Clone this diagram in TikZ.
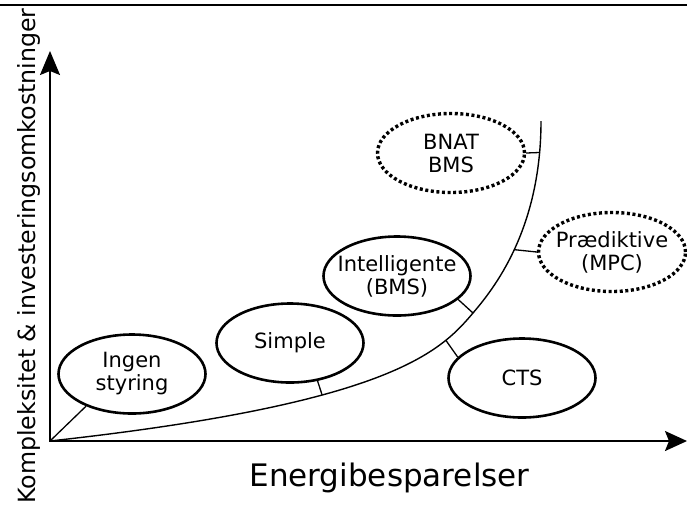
\documentclass[tikz,border=0pt]{standalone}
\usepackage{fontspec}
\setmainfont{DejaVu Sans}
\usetikzlibrary{shapes.geometric,arrows.meta}
\begin{document}
\begin{tikzpicture}[x=1pt,y=-1pt,
  box/.style={ellipse, draw, line width=2.6pt, inner sep=0pt, minimum width=147pt, minimum height=79pt},
  dotbox/.style={box, line width=3.4pt, dash pattern=on 3pt off 2.6pt},
  lbl/.style={font=\fontsize{21}{23}\selectfont, align=center, inner sep=0pt},
  axisline/.style={line width=1.8pt, {Stealth[length=24pt,width=20pt,inset=4pt]}-{Stealth[length=22pt,width=20pt,inset=4pt]}},
  tickline/.style={line width=1.3pt},
  curveline/.style={line width=1.4pt},
]
\useasboundingbox (0,0) rectangle (687,507);
\fill[white] (0,0) rectangle (687,507);
% top rule
\coordinate (tl) at (0,5);
\coordinate (tr) at (687,5);
\draw[line width=1.8pt] (tl) -- (tr);
% axes
\coordinate (O) at (50,441);
\coordinate (ytip) at (50,51);
\coordinate (xtip) at (687,441);
\draw[axisline] (ytip) -- (O) -- (xtip);
% axis labels
\node[font=\fontsize{23.7}{28}\selectfont, rotate=90, anchor=base, inner sep=0pt] (ylab) at (35,256) {Kompleksitet \& investeringsomkostninger};
\node[font=\fontsize{31}{37}\selectfont, anchor=base, inner sep=0pt] (xlab) at (389.5,486) {Energibesparelser};
% curve
\coordinate (cI) at (473,313);
\coordinate (ctop) at (541,121);
\draw[curveline] (O) .. controls (390,403.6) and (440,352) .. (cI)
  coordinate[pos=0.37] (cS) coordinate[pos=0.78] (cC)
  .. controls (492.4,290.1) and (541,231) .. (ctop)
  coordinate[pos=0.5] (cP) coordinate[pos=0.9] (cB);
% ellipses
\node[box, label={[lbl]center:Ingen\\styring}] (ingen) at (132,374) {};
\node[box, label={[lbl]center:Simple}] (simple) at (290,343) {};
\node[box, label={[lbl]center:Intelligente\\(BMS)}] (intel) at (397,276) {};
\node[box, label={[lbl]center:CTS}] (cts) at (522,378) {};
\node[dotbox, label={[lbl]center:BNAT\\BMS}] (bnat) at (451,153) {};
\node[dotbox, label={[lbl]center:Prædiktive\\(MPC)}] (pred) at (612,252) {};
% ticks
\draw[tickline] (ingen.215) -- (O);
\draw[tickline] (simple.-54) -- (cS);
\draw[tickline] (intel.-21) -- (cI);
\draw[tickline] (cts.162) -- (cC);
\draw[tickline] (bnat.east) -- (cB);
\draw[tickline] (pred.west) -- (cP);
\end{tikzpicture}
\end{document}
